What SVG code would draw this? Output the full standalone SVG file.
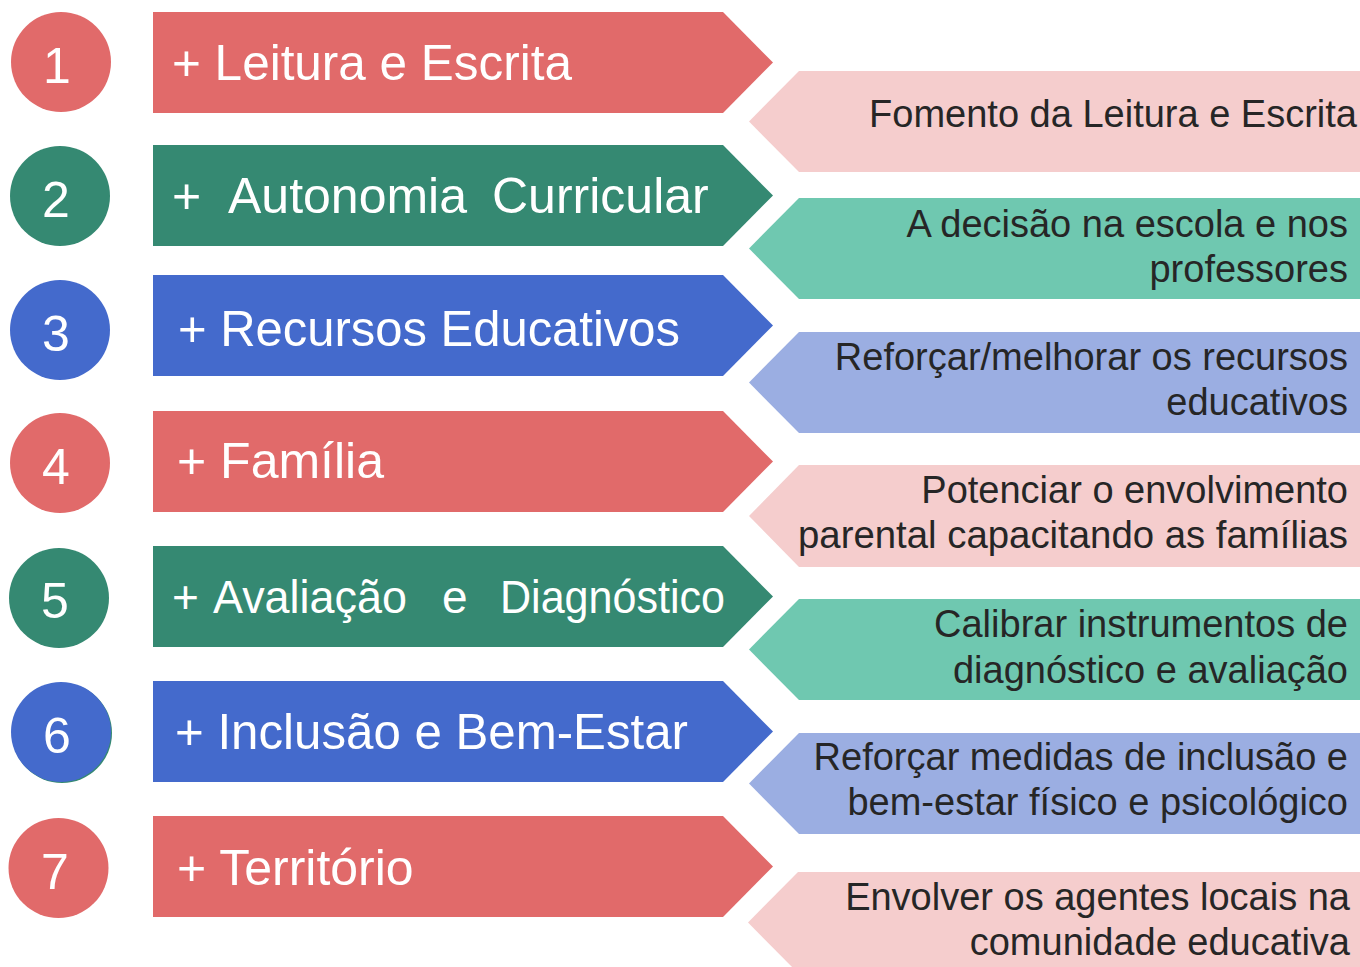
<svg xmlns="http://www.w3.org/2000/svg" width="1360" height="967" viewBox="0 0 1360 967">
<style>
.red{fill:#E16A6A}.grn{fill:#358972}.blu{fill:#446ACC}
.lred{fill:#F5CDCD}.lgrn{fill:#6FC8B0}.lblu{fill:#9BAEE2}
.num{font-family:"Liberation Sans",Arial,sans-serif;font-size:50px;fill:#fff;text-anchor:middle}
.lt{font-family:"Liberation Sans",Arial,sans-serif;font-size:50px;fill:#fff}
.rt{font-family:"Liberation Sans",Arial,sans-serif;font-size:38px;fill:#262626;text-anchor:end}
</style>
<rect width="1360" height="967" fill="#fff"/>
<g id="connectors"></g>
<g id="row1">
<circle class="red" cx="61" cy="62" r="50"/><text class="num" x="57" y="83">1</text>
<path class="red" d="M153,12H723L773,62.5L723,113H153Z"/>
<text class="lt" x="172" y="80" textLength="400" lengthAdjust="spacingAndGlyphs">+ Leitura e Escrita</text>
<path class="lred" d="M1360,71H799L749,121.5L799,172H1360Z"/>
<text class="rt" x="1357" y="127">Fomento da Leitura e Escrita</text>
</g>
<g id="row2">
<circle class="grn" cx="60" cy="196" r="50"/><text class="num" x="56" y="217">2</text>
<path class="grn" d="M153,145H723L773,195.5L723,246H153Z"/>
<text class="lt" y="213"><tspan x="172">+</tspan><tspan x="228">Autonomia</tspan><tspan x="492">Curricular</tspan></text>
<path class="lgrn" d="M1360,198H799L749,248.5L799,299H1360Z"/>
<text class="rt" x="1348" y="237">A decisão na escola e nos</text>
<text class="rt" x="1348" y="282">professores</text>
</g>
<g id="row3">
<circle class="blu" cx="60" cy="330" r="50"/><text class="num" x="56" y="351">3</text>
<path class="blu" d="M153,275H723L773,325.5L723,376H153Z"/>
<text class="lt" x="178" y="346" textLength="502" lengthAdjust="spacingAndGlyphs">+ Recursos Educativos</text>
<path class="lblu" d="M1360,332H799L749,382.5L799,433H1360Z"/>
<text class="rt" x="1348" y="370">Reforçar/melhorar os recursos</text>
<text class="rt" x="1348" y="415">educativos</text>
</g>
<g id="row4">
<circle class="red" cx="60" cy="463" r="50"/><text class="num" x="56" y="484">4</text>
<path class="red" d="M153,411H723L773,461.5L723,512H153Z"/>
<text class="lt" x="177" y="478">+ Família</text>
<path class="lred" d="M1360,465H799L749,516L799,567H1360Z"/>
<text class="rt" x="1348" y="503">Potenciar o envolvimento</text>
<text class="rt" x="1348" y="548" textLength="550" lengthAdjust="spacingAndGlyphs">parental capacitando as famílias</text>
</g>
<g id="row5">
<circle class="grn" cx="59" cy="598" r="50"/><text class="num" x="55" y="618">5</text>
<path class="grn" d="M153,546H723L773,596.5L723,647H153Z"/>
<text class="lt" x="172" y="613" style="font-size:46px">+</text>
<text class="lt" x="213" y="613" style="font-size:46px" textLength="194" lengthAdjust="spacingAndGlyphs">Avaliação</text>
<text class="lt" x="442" y="613" style="font-size:46px">e</text>
<text class="lt" x="500" y="613" style="font-size:46px" textLength="225" lengthAdjust="spacingAndGlyphs">Diagnóstico</text>
<path class="lgrn" d="M1360,599H799L749,649.5L799,700H1360Z"/>
<text class="rt" x="1348" y="637">Calibrar instrumentos de</text>
<text class="rt" x="1348" y="683">diagnóstico e avaliação</text>
</g>
<g id="row6">
<circle class="grn" cx="62" cy="733" r="50"/>
<circle class="blu" cx="61" cy="732" r="50"/><text class="num" x="57" y="753">6</text>
<path class="blu" d="M153,681H723L773,731.5L723,782H153Z"/>
<text class="lt" x="175" y="749" textLength="513" lengthAdjust="spacingAndGlyphs">+ Inclusão e Bem-Estar</text>
<path class="lblu" d="M1360,733H799L749,783.5L799,834H1360Z"/>
<text class="rt" x="1348" y="770">Reforçar medidas de inclusão e</text>
<text class="rt" x="1348" y="815">bem-estar físico e psicológico</text>
</g>
<g id="row7">
<circle class="red" cx="58.5" cy="868" r="50"/><text class="num" x="55" y="889">7</text>
<path class="red" d="M153,816H723L773,866.5L723,917H153Z"/>
<text class="lt" x="177" y="885">+ Território</text>
<path class="lred" d="M1360,872H798L748,922.5L798,973H1360Z"/>
<text class="rt" x="1350" y="910">Envolver os agentes locais na</text>
<text class="rt" x="1350" y="955">comunidade educativa</text>
</g>
</svg>
